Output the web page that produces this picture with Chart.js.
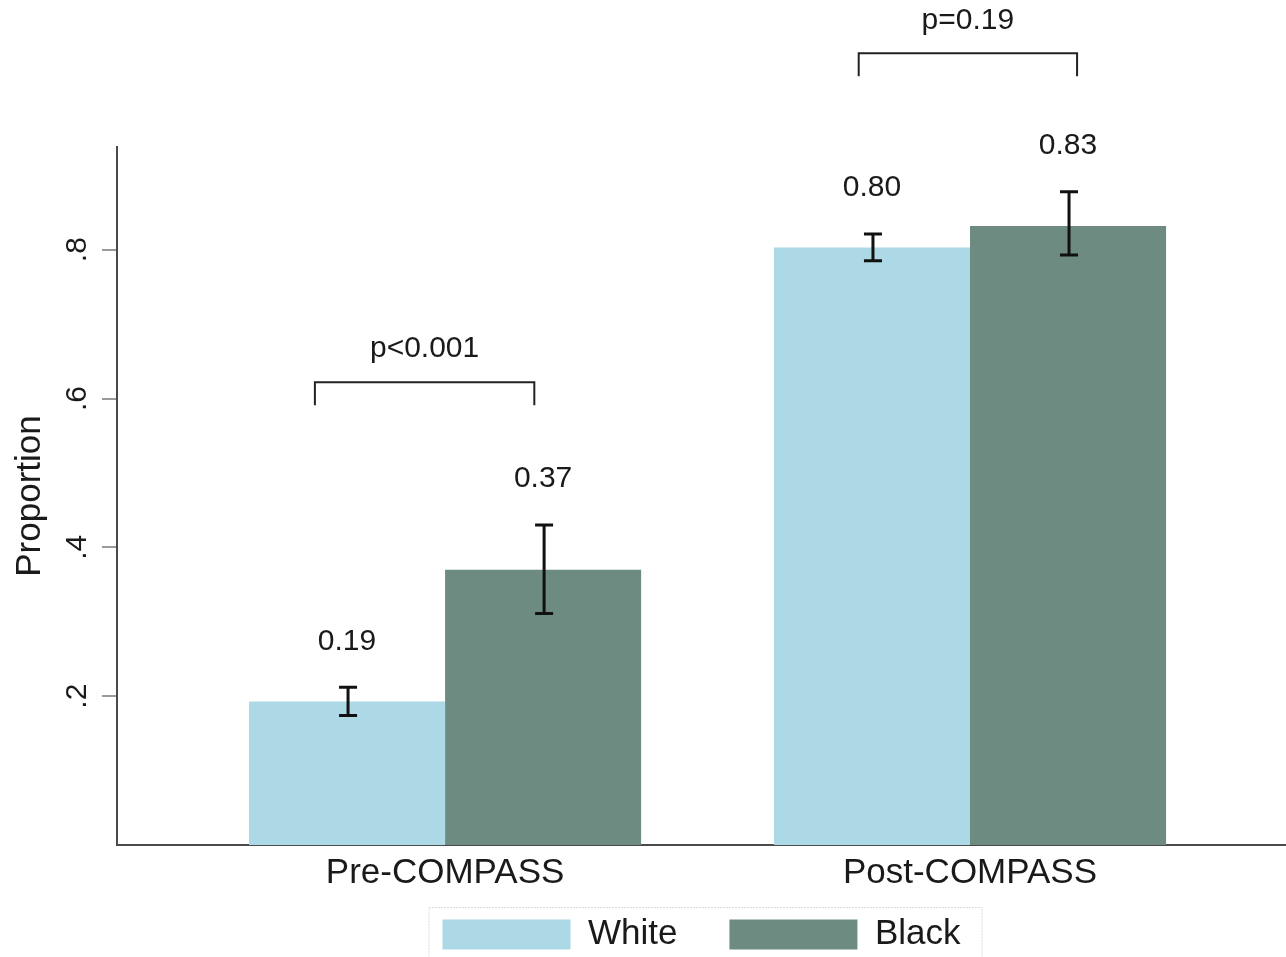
<!DOCTYPE html>
<html>
<head>
<meta charset="utf-8">
<title>Proportion by race, Pre/Post COMPASS</title>
<script src="https://cdn.jsdelivr.net/npm/chart.js@4.4.0/dist/chart.umd.min.js"></script>
<style>
    html, body { margin: 0; padding: 0; background: #ffffff; }
    #wrap { width: 1286px; height: 957px; position: relative; }
</style>
</head>
<body>
<div id="wrap"><canvas id="chartCompass"></canvas></div>
<script>
const categories = ['Pre-COMPASS', 'Post-COMPASS'];
const catPos = [1, 2];

const whiteVals = [0.193, 0.803];
const whiteLow = [0.174, 0.785];
const whiteHigh = [0.212, 0.821];

const blackVals = [0.370, 0.832];
const blackLow = [0.311, 0.793];
const blackHigh = [0.430, 0.878];

const yTicks = [0.2, 0.4, 0.6, 0.8];
const yTickLabels = ['.2', '.4', '.6', '.8'];

// significance brackets, in axis units
const pLabels = ['p<0.001', 'p=0.19'];
const bracketFrom = [0.752, 1.788];
const bracketTo = [1.170, 2.204];
const bracketY = [0.622, 1.064];

const FONT = '"Liberation Sans", Arial, sans-serif';
const TEXT = '#1a1a1a';
Chart.defaults.font.family = FONT;

const annotatePlugin = {
    id: 'annotate',
    afterDraw(chart) {
        const ctx = chart.ctx;
        const xs = chart.scales.x;
        const ys = chart.scales.y;
        ctx.save();

        // error bars + value labels
        const sets = [[whiteLow, whiteHigh, whiteVals], [blackLow, blackHigh, blackVals]];
        sets.forEach(([lo, hi, vals], d) => {
            chart.getDatasetMeta(d).data.forEach((bar, i) => {
                const top = ys.getPixelForValue(hi[i]);
                const bot = ys.getPixelForValue(lo[i]);
                const cx = bar.x + 1;
                ctx.strokeStyle = '#111111';
                ctx.lineWidth = 3;
                ctx.beginPath();
                ctx.moveTo(cx, top); ctx.lineTo(cx, bot);
                ctx.moveTo(cx - 9, top); ctx.lineTo(cx + 9, top);
                ctx.moveTo(cx - 9, bot); ctx.lineTo(cx + 9, bot);
                ctx.stroke();
                ctx.fillStyle = TEXT;
                ctx.font = '30px ' + FONT;
                ctx.textAlign = 'center';
                ctx.textBaseline = 'middle';
                ctx.fillText(vals[i].toFixed(2), bar.x, top - 46);
            });
        });

        // brackets
        pLabels.forEach((txt, i) => {
            const x1 = xs.getPixelForValue(bracketFrom[i]);
            const x2 = xs.getPixelForValue(bracketTo[i]);
            const yy = ys.getPixelForValue(bracketY[i]);
            ctx.strokeStyle = '#222222';
            ctx.lineWidth = 2;
            ctx.beginPath();
            ctx.moveTo(x1, yy + 23); ctx.lineTo(x1, yy); ctx.lineTo(x2, yy); ctx.lineTo(x2, yy + 23);
            ctx.stroke();
            ctx.fillStyle = TEXT;
            ctx.font = '30px ' + FONT;
            ctx.textAlign = 'center';
            ctx.textBaseline = 'middle';
            ctx.fillText(txt, (x1 + x2) / 2, yy - 33);
        });

        // category labels under the x axis (library clips tick labels to the axis box)
        ctx.fillStyle = TEXT;
        ctx.font = '35px ' + FONT;
        ctx.textAlign = 'center';
        ctx.textBaseline = 'middle';
        categories.forEach((c, i) => {
            ctx.fillText(c, xs.getPixelForValue(catPos[i]), chart.chartArea.bottom + 28);
        });

        // rotated y tick labels
        ctx.font = '30px ' + FONT;
        ctx.textBaseline = 'alphabetic';
        yTicks.forEach((v, i) => {
            ctx.save();
            ctx.translate(86, ys.getPixelForValue(v));
            ctx.rotate(-Math.PI / 2);
            ctx.fillText(yTickLabels[i], 0, 0);
            ctx.restore();
        });

        // legend frame
        const hb = chart.legend.legendHitBoxes;
        if (hb && hb.length) {
            const first = hb[0];
            const last = hb[hb.length - 1];
            ctx.strokeStyle = '#dcdcdc';
            ctx.lineWidth = 1;
            ctx.setLineDash([2, 1]);
            ctx.strokeRect(first.left - 13.5, first.top - 9.5, last.left + last.width + 22 - first.left + 13, 80);
        }
        ctx.restore();
    }
};

const ctx = document.getElementById('chartCompass').getContext('2d');
new Chart(ctx, {
    type: 'bar',
    data: {
        datasets: [{
            label: 'White',
            data: catPos.map((p, i) => ({ x: p, y: whiteVals[i] })),
            backgroundColor: '#add8e6',
            borderWidth: 0,
            categoryPercentage: 0.747,
            barPercentage: 1.0
        }, {
            label: 'Black',
            data: catPos.map((p, i) => ({ x: p, y: blackVals[i] })),
            backgroundColor: '#6d8b80',
            borderWidth: 0,
            categoryPercentage: 0.747,
            barPercentage: 1.0
        }]
    },
    options: {
        responsive: true,
        maintainAspectRatio: false,
        animation: false,
        layout: { padding: { top: 147, left: 0, right: 0, bottom: -5 } },
        scales: {
            x: {
                type: 'linear',
                offset: false,
                min: 0.375,
                max: 2.602,
                afterBuildTicks: s => { s.ticks = catPos.map(v => ({ value: v })); },
                afterFit: s => { s.height = 20; },
                grid: { display: false, drawTicks: false, offset: false },
                border: { display: true, color: '#4a4a4a', width: 2 },
                ticks: { display: false }
            },
            y: {
                min: 0,
                max: 0.938,
                afterBuildTicks: s => { s.ticks = yTicks.map(v => ({ value: v })); },
                afterFit: s => { s.width = 117; },
                ticks: { display: false },
                grid: { drawOnChartArea: false, drawTicks: true, tickLength: 15, color: '#9a9a9a', lineWidth: 2 },
                border: { display: true, color: '#4a4a4a', width: 2 },
                title: {
                    display: true,
                    text: 'Proportion',
                    color: TEXT,
                    font: { size: 35 },
                    padding: { top: 9, bottom: 0 }
                }
            }
        },
        plugins: {
            legend: {
                position: 'bottom',
                fullSize: false,
                labels: { boxWidth: 128, boxHeight: 30, padding: 52, color: TEXT, font: { size: 35 } }
            },
            tooltip: { enabled: false }
        }
    },
    plugins: [annotatePlugin]
});
</script>
</body>
</html>
